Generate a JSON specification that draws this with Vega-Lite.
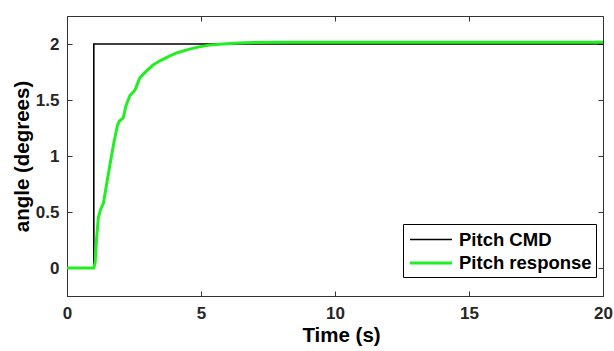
{
  "$schema": "https://vega.github.io/schema/vega-lite/v6.json",
  "width": 536,
  "height": 280,
  "autosize": {"type": "none"},
  "padding": {"left": 67, "top": 16, "right": 11, "bottom": 55},
  "background": "white",
  "config": {
    "font": "Liberation Sans",
    "view": {"stroke": "#333333", "strokeWidth": 1},
    "axis": {
      "grid": false,
      "labelFont": "Liberation Sans",
      "labelFontWeight": "bold",
      "labelFontSize": 17,
      "labelColor": "#262626",
      "titleFont": "Liberation Sans",
      "titleFontWeight": "bold",
      "titleFontSize": 20.5,
      "titleColor": "#000000",
      "tickColor": "#333333",
      "domainColor": "#333333",
      "tickSize": -5,
      "labelFlush": false,
      "labelOverlap": false,
      "format": "~g"
    },
    "legend": {
      "labelFont": "Liberation Sans",
      "labelFontWeight": "bold",
      "labelFontSize": 18.5,
      "labelColor": "#000000",
      "strokeColor": "#000000",
      "fillColor": "white",
      "padding": 4,
      "rowPadding": 2,
      "symbolType": "M-2,0H2",
      "symbolSize": 441,
      "symbolOffset": 12,
      "labelOffset": 16
    }
  },
  "datasets": {
    "cmd": [
      {"series": "Pitch CMD", "i": 0, "t": 0, "v": 0},
      {"series": "Pitch CMD", "i": 1, "t": 1, "v": 0},
      {"series": "Pitch CMD", "i": 2, "t": 1, "v": 2},
      {"series": "Pitch CMD", "i": 3, "t": 20, "v": 2}
    ],
    "resp": [
      {"series": "Pitch response", "i": 0, "t": 0, "v": 0},
      {"series": "Pitch response", "i": 1, "t": 1.0, "v": 0},
      {"series": "Pitch response", "i": 2, "t": 1.05, "v": 0.05},
      {"series": "Pitch response", "i": 3, "t": 1.1, "v": 0.25},
      {"series": "Pitch response", "i": 4, "t": 1.17, "v": 0.45},
      {"series": "Pitch response", "i": 5, "t": 1.25, "v": 0.52},
      {"series": "Pitch response", "i": 6, "t": 1.36, "v": 0.58},
      {"series": "Pitch response", "i": 7, "t": 1.5, "v": 0.78},
      {"series": "Pitch response", "i": 8, "t": 1.6, "v": 0.92},
      {"series": "Pitch response", "i": 9, "t": 1.75, "v": 1.12},
      {"series": "Pitch response", "i": 10, "t": 1.88, "v": 1.27},
      {"series": "Pitch response", "i": 11, "t": 1.95, "v": 1.31},
      {"series": "Pitch response", "i": 12, "t": 2.1, "v": 1.34},
      {"series": "Pitch response", "i": 13, "t": 2.2, "v": 1.45},
      {"series": "Pitch response", "i": 14, "t": 2.35, "v": 1.54},
      {"series": "Pitch response", "i": 15, "t": 2.54, "v": 1.59},
      {"series": "Pitch response", "i": 16, "t": 2.72, "v": 1.7},
      {"series": "Pitch response", "i": 17, "t": 2.97, "v": 1.76},
      {"series": "Pitch response", "i": 18, "t": 3.2, "v": 1.81},
      {"series": "Pitch response", "i": 19, "t": 3.47, "v": 1.85},
      {"series": "Pitch response", "i": 20, "t": 3.8, "v": 1.89},
      {"series": "Pitch response", "i": 21, "t": 4.09, "v": 1.92},
      {"series": "Pitch response", "i": 22, "t": 4.5, "v": 1.95},
      {"series": "Pitch response", "i": 23, "t": 4.84, "v": 1.97},
      {"series": "Pitch response", "i": 24, "t": 5.3, "v": 1.99},
      {"series": "Pitch response", "i": 25, "t": 5.83, "v": 2.0},
      {"series": "Pitch response", "i": 26, "t": 6.4, "v": 2.01},
      {"series": "Pitch response", "i": 27, "t": 7, "v": 2.013},
      {"series": "Pitch response", "i": 28, "t": 8, "v": 2.015},
      {"series": "Pitch response", "i": 29, "t": 20, "v": 2.015}
    ]
  },
  "layer": [
    {
      "data": {"name": "cmd"},
      "mark": {"type": "line", "clip": true},
      "encoding": {
        "x": {
          "field": "t", "type": "quantitative",
          "scale": {"domain": [0, 20], "nice": false, "zero": false},
          "axis": {"title": "Time (s)", "values": [0, 5, 10, 15, 20], "labelPadding": 14, "titlePadding": 4, "titleX": 274, "orient": "bottom"}
        },
        "y": {
          "field": "v", "type": "quantitative",
          "scale": {"domain": [-0.25, 2.25], "nice": false, "zero": false},
          "axis": {"title": "angle (degrees)", "values": [0, 0.5, 1, 1.5, 2], "labelPadding": 13, "titlePadding": 3, "orient": "left"}
        },
        "order": {"field": "i", "type": "quantitative"},
        "color": {
          "field": "series", "type": "nominal",
          "scale": {"domain": ["Pitch CMD", "Pitch response"], "range": ["#000000", "#22ee22"]},
          "legend": {"title": null, "orient": "none", "legendX": 336, "legendY": 208}
        },
        "strokeWidth": {
          "field": "series", "type": "nominal",
          "scale": {"domain": ["Pitch CMD", "Pitch response"], "range": [1.6, 3]},
          "legend": {"title": null, "orient": "none", "legendX": 336, "legendY": 208}
        }
      }
    },
    {
      "data": {"name": "resp"},
      "mark": {"type": "line", "clip": true},
      "encoding": {
        "x": {
          "field": "t", "type": "quantitative",
          "axis": {"title": null, "labels": false, "domain": false, "values": [0, 5, 10, 15, 20], "orient": "top"}
        },
        "y": {
          "field": "v", "type": "quantitative",
          "axis": {"title": null, "labels": false, "domain": false, "values": [0, 0.5, 1, 1.5, 2], "orient": "right"}
        },
        "order": {"field": "i", "type": "quantitative"},
        "color": {"field": "series", "type": "nominal"},
        "strokeWidth": {"field": "series", "type": "nominal"}
      }
    }
  ],
  "resolve": {"axis": {"x": "independent", "y": "independent"}}
}
